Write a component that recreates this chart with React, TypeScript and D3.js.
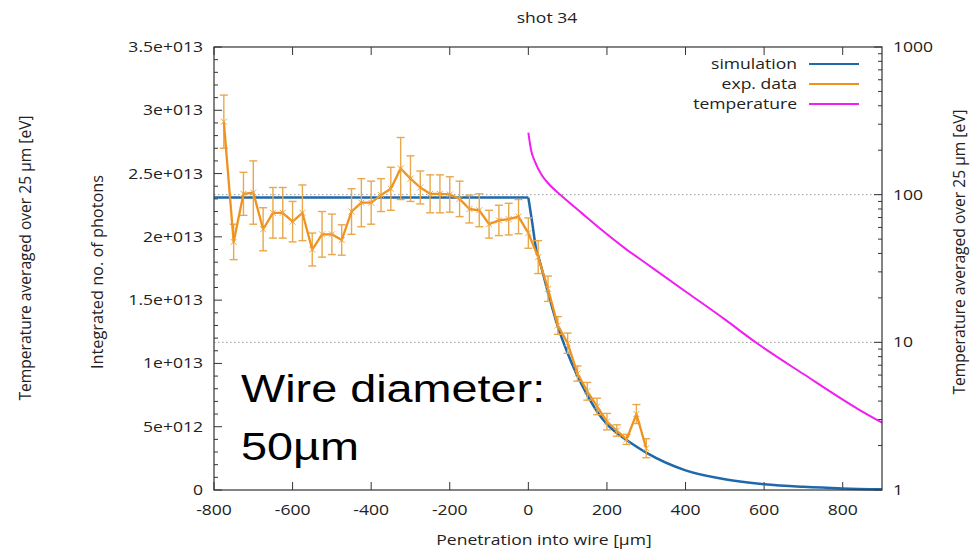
import React from "react";
import * as d3 from "d3";

// ---------- data ----------
const expX = [-775, -750, -725, -700, -675, -650, -625, -600, -575, -550, -525, -500, -475, -450, -425, -400, -375, -350, -325, -300, -275, -250, -225, -200, -175, -150, -125, -100, -75, -50, -25, 0, 25, 50, 75, 100, 125, 150, 175, 200, 225, 250, 275, 300];
// units of 1e13 photons
const expY = [2.91, 1.96, 2.34, 2.35, 2.06, 2.19, 2.19, 2.12, 2.19, 1.9, 2.02, 2.02, 1.975, 2.2, 2.27, 2.27, 2.33, 2.38, 2.54, 2.46, 2.39, 2.34, 2.34, 2.335, 2.3, 2.22, 2.21, 2.1, 2.13, 2.14, 2.16, 2.03, 1.84, 1.59, 1.3, 1.16, 0.92, 0.78, 0.66, 0.54, 0.47, 0.4, 0.6, 0.33];
const expErr = [0.21, 0.14, 0.17, 0.25, 0.17, 0.2, 0.2, 0.16, 0.22, 0.13, 0.18, 0.16, 0.12, 0.18, 0.19, 0.17, 0.13, 0.17, 0.245, 0.18, 0.13, 0.15, 0.15, 0.14, 0.14, 0.11, 0.13, 0.11, 0.12, 0.125, 0.135, 0.12, 0.13, 0.1, 0.07, 0.08, 0.06, 0.07, 0.065, 0.065, 0.045, 0.04, 0.075, 0.075];

const simX = [-800, 0, 10, 20, 25, 50, 75, 100, 125, 150, 175, 200, 225, 250, 300, 400, 500, 600, 700, 800, 900];
const simY = [2.31, 2.31, 2.11, 1.9, 1.85, 1.56, 1.29, 1.08, 0.9, 0.75, 0.62, 0.52, 0.45, 0.395, 0.295, 0.155, 0.085, 0.046, 0.025, 0.012, 0.005];

const tempX = [0, 7, 17, 34, 51, 85, 136, 187, 246, 300, 400, 500, 582, 700, 840, 900];
const tempY = [263, 200, 167, 136, 119, 98, 75, 57.6, 43.3, 34.2, 22.1, 14.3, 9.85, 6.1, 3.52, 2.86];

const xTicks = [-800, -600, -400, -200, 0, 200, 400, 600, 800];
const yLeftTicks = [0, 0.5, 1, 1.5, 2, 2.5, 3, 3.5];
const yLeftTickLabels = ["0", "5e+012", "1e+013", "1.5e+013", "2e+013", "2.5e+013", "3e+013", "3.5e+013"];
const yRightTicks = [1, 10, 100, 1000];
const yRightTickLabels = ["1", "10", "100", "1000"];
const gridTemps = [10, 100];
const legendLabels = ["simulation", "exp. data", "temperature"];

const title = "shot 34";
const xLabel = "Penetration into wire [µm]";
const yLeftLabel = "Integrated no. of photons";
const tempLabel = "Temperature averaged over 25 µm [eV]";
const noteLines = ["Wire diameter:", "50µm"];

// ---------- styles ----------
const W = 978;
const H = 552;
const L = 214, R = 882, T = 47, B = 490;
const BLUE = "#1f69ab";
const ORANGE = "#f0921e";
const ERR = "#e8a84c";
const MAGENTA = "#f01ef0";
const AXIS = "#333";
const TXT = "#222";
const FONT = "'Open Sans', 'Noto Sans', sans-serif";
const SX = 1.17;

function HText(props: { x: number; y: number; anchor?: string; size?: number; children: React.ReactNode }) {
  const { x, y, anchor = "start", size = 15, children } = props;
  return (
    <g transform={`translate(${x},${y}) scale(${SX},1)`}>
      <text x={0} y={0} textAnchor={anchor as any} fontSize={size} fontFamily={FONT} fill={TXT}>
        {children}
      </text>
    </g>
  );
}

export default function App() {
  const x = d3.scaleLinear().domain([-800, 900]).range([L, R]);
  const yL = d3.scaleLinear().domain([0, 3.5]).range([B, T]);
  const yR = d3.scaleLog().domain([1, 1000]).range([B, T]);

  const simPts: [number, number][] = simX.map((v, i) => [x(v), yL(simY[i])]);
  const flatPath = d3.line()(simPts.slice(0, 2)) || "";
  const decayPath = d3.line().curve(d3.curveMonotoneX)(simPts.slice(1)) || "";

  const expPts: [number, number][] = expX.map((v, i) => [x(v), yL(expY[i])]);
  const expPath = d3.line()(expPts) || "";

  const tempPts: [number, number][] = tempX.map((v, i) => [x(v), yR(tempY[i])]);
  const tempPath = d3.line().curve(d3.curveMonotoneX)(tempPts) || "";

  const minorLeft: number[] = [];
  for (let k = 0; k <= 35; k++) {
    if (k % 5 !== 0) minorLeft.push(k / 10);
  }
  const minorRight: number[] = [];
  [1, 10, 100].forEach((d) => {
    for (let k = 2; k <= 9; k++) minorRight.push(d * k);
  });

  const tick = 8;
  const mtick = 4;

  return (
    <div style={{ position: "absolute", left: 0, top: 0, width: W, height: H, background: "#fff" }}>
      <svg width={W} height={H} viewBox={`0 0 ${W} ${H}`} style={{ display: "block" }}>
        <rect x={0} y={0} width={W} height={H} fill="#fff" />
        {/* grid */}
        {gridTemps.map((t) => (
          <line key={"g" + t} x1={L} x2={R} y1={yR(t)} y2={yR(t)} stroke="#999" strokeWidth={1} strokeDasharray="1.5,2.5" />
        ))}

        {/* ticks */}
        {xTicks.map((t) => (
          <g key={"xt" + t}>
            <line x1={x(t)} x2={x(t)} y1={B} y2={B - tick} stroke={AXIS} strokeWidth={1} />
            <line x1={x(t)} x2={x(t)} y1={T} y2={T + tick} stroke={AXIS} strokeWidth={1} />
            <HText x={x(t)} y={B + 25} anchor="middle">
              {t}
            </HText>
          </g>
        ))}
        {yLeftTicks.map((t, i) => (
          <g key={"yl" + t}>
            <line x1={L} x2={L + tick} y1={yL(t)} y2={yL(t)} stroke={AXIS} strokeWidth={1} />
            <HText x={L - 11} y={yL(t) + 5} anchor="end">
              {yLeftTickLabels[i]}
            </HText>
          </g>
        ))}
        {minorLeft.map((t) => (
          <line key={"ml" + t} x1={L} x2={L + mtick} y1={yL(t)} y2={yL(t)} stroke={AXIS} strokeWidth={1} />
        ))}
        {yRightTicks.map((t, i) => (
          <g key={"yr" + t}>
            <line x1={R} x2={R - tick} y1={yR(t)} y2={yR(t)} stroke={AXIS} strokeWidth={1} />
            <HText x={R + 11} y={yR(t) + 5} anchor="start">
              {yRightTickLabels[i]}
            </HText>
          </g>
        ))}
        {minorRight.map((t) => (
          <line key={"mr" + t} x1={R} x2={R - mtick} y1={yR(t)} y2={yR(t)} stroke={AXIS} strokeWidth={1} />
        ))}

        {/* simulation */}
        <path d={flatPath} fill="none" stroke={BLUE} strokeWidth={2.5} />
        <path d={decayPath} fill="none" stroke={BLUE} strokeWidth={2.5} />

        {/* exp data error bars */}
        {expX.map((v, i) => {
          const cx = x(v);
          const y1 = yL(expY[i] + expErr[i]);
          const y2 = yL(expY[i] - expErr[i]);
          return (
            <g key={"e" + v} stroke={ERR} strokeWidth={1.4}>
              <line x1={cx} x2={cx} y1={y1} y2={y2} />
              <line x1={cx - 4} x2={cx + 4} y1={y1} y2={y1} />
              <line x1={cx - 4} x2={cx + 4} y1={y2} y2={y2} />
            </g>
          );
        })}
        <path d={expPath} fill="none" stroke={ORANGE} strokeWidth={2.3} strokeLinejoin="round" />
        {expPts.map(([px, py], i) => (
          <g key={"m" + i} stroke={ERR} strokeWidth={1}>
            <line x1={px - 3} x2={px + 3} y1={py - 3} y2={py + 3} />
            <line x1={px - 3} x2={px + 3} y1={py + 3} y2={py - 3} />
          </g>
        ))}

        {/* temperature */}
        <path d={tempPath} fill="none" stroke={MAGENTA} strokeWidth={2} />

        {/* border */}
        <rect x={L} y={T} width={R - L} height={B - T} fill="none" stroke={AXIS} strokeWidth={1.2} />

        {/* legend */}
        {legendLabels.map((lab, i) => {
          const ly = 64 + i * 20;
          const col = [BLUE, ORANGE, MAGENTA][i];
          return (
            <g key={"lg" + i}>
              <HText x={797} y={ly + 5} anchor="end">
                {lab}
              </HText>
              <line x1={809} x2={859} y1={ly} y2={ly} stroke={col} strokeWidth={2} />
            </g>
          );
        })}

        {/* titles */}
        <HText x={547} y={23} anchor="middle">
          {title}
        </HText>
        <HText x={544} y={545} anchor="middle">
          {xLabel}
        </HText>
        <text transform="translate(97,272) rotate(-90)" textAnchor="middle" dy="0.35em" fontSize={16.3} fontFamily={FONT} fill={TXT}>
          {yLeftLabel}
        </text>
        <text transform="translate(26,258) rotate(-90)" textAnchor="middle" dy="0.35em" fontSize={15.6} fontFamily={FONT} fill={TXT}>
          {tempLabel}
        </text>
        <text transform="translate(960,252) rotate(-90)" textAnchor="middle" dy="0.35em" fontSize={15.6} fontFamily={FONT} fill={TXT}>
          {tempLabel}
        </text>

        {/* annotation */}
        <g transform="translate(241,0) scale(1.2,1)">
          {noteLines.map((s, i) => (
            <text key={s} x={0} y={402 + i * 58} fontSize={39} fontFamily="'Liberation Sans', Arial, sans-serif" fill="#000">
              {s}
            </text>
          ))}
        </g>
      </svg>
    </div>
  );
}
